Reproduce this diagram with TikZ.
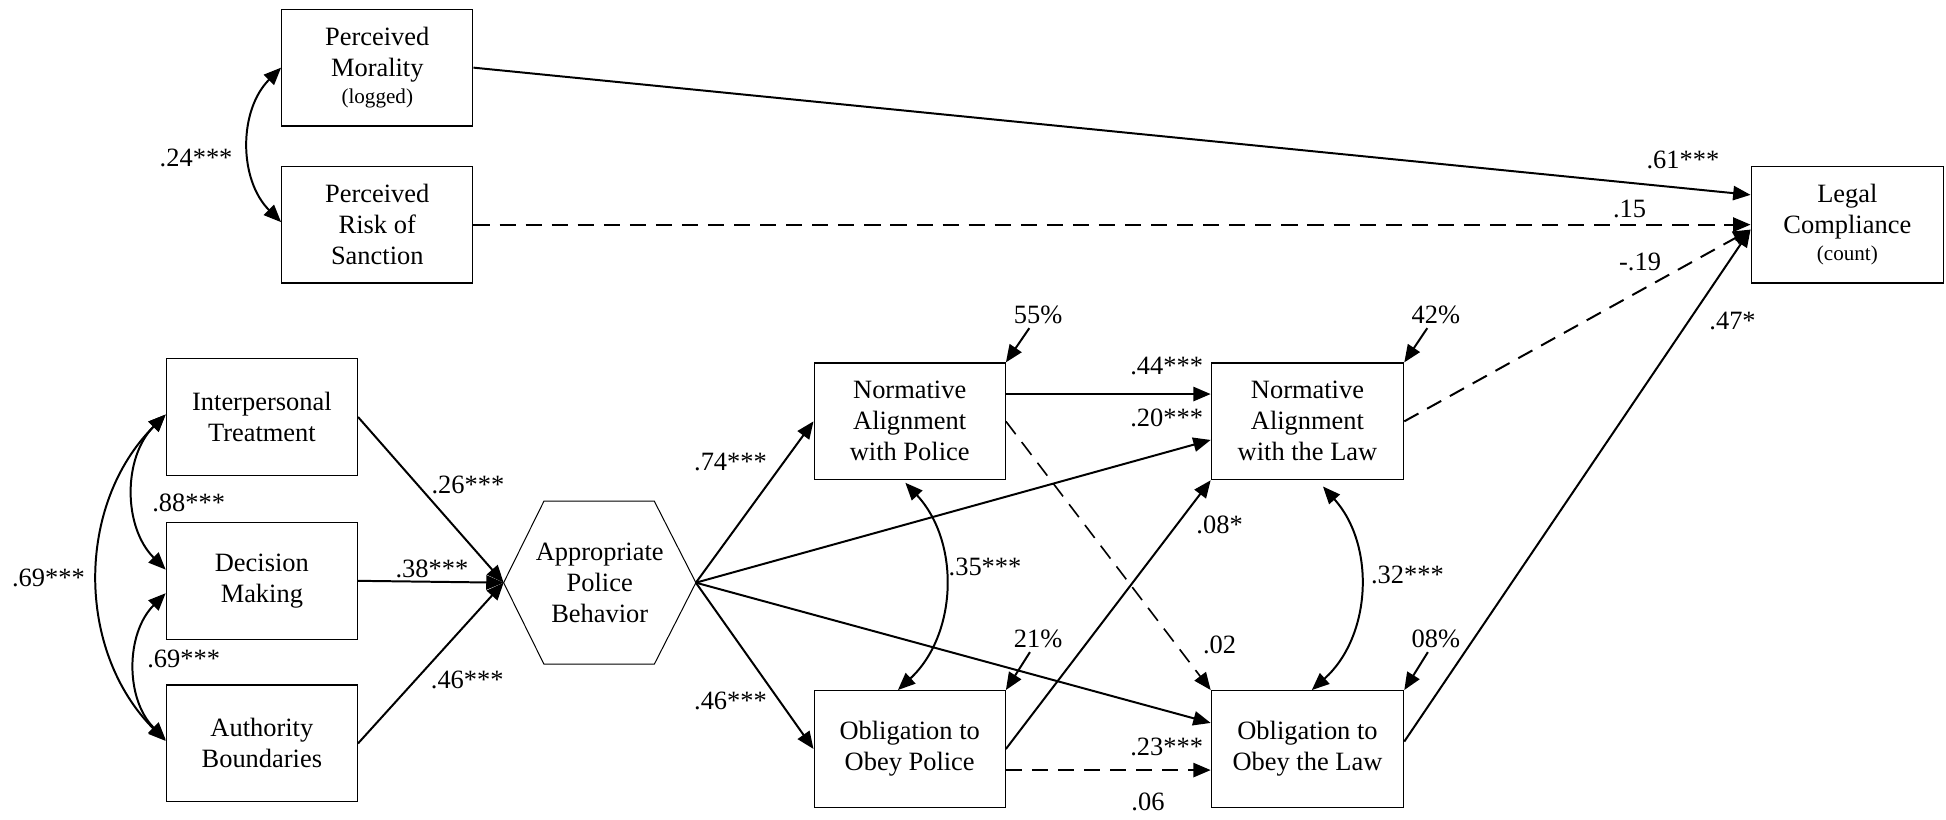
\documentclass[tikz,border=0pt]{standalone}
\usepackage{fontspec}
\setmainfont{Liberation Serif}
\usetikzlibrary{arrows.meta}
\newcommand\myfs{\fontsize{21.3}{25}\selectfont}
\newcommand\mysm{\fontsize{17}{19}\selectfont}
\tikzset{
  box/.style={draw, line width=1pt, minimum width=154pt, minimum height=94pt, align=center, inner sep=0pt, font=\myfs},
  lab/.style={font=\myfs, inner sep=1pt},
  arr/.style={-{Triangle[length=14pt,width=11.5pt]}, line width=1.6pt},
  dbl/.style={{Triangle[length=14pt,width=11.5pt]}-{Triangle[length=14pt,width=11.5pt]}, line width=1.6pt},
  dsh/.style={dash pattern=on 13pt off 8pt}
}
\begin{document}
\begin{tikzpicture}[x=1pt,y=-1pt]
\useasboundingbox (0,0) rectangle (1568,660);
% boxes
\node[box] (pm) at (304,54.5) {Perceived\\Morality\\[-3pt]{\mysm (logged)}};
\node[box] (pr) at (304,181) {Perceived\\Risk of\\Sanction};
\node[box, minimum width=155pt] (lc) at (1488.5,181) {Legal\\Compliance\\[-3pt]{\mysm (count)}};
\node[box] (it) at (211,336) {Interpersonal\\Treatment};
\node[box] (dm) at (211,468) {Decision\\Making};
\node[box] (ab) at (211,599) {Authority\\Boundaries};
\node[minimum width=154.5pt, minimum height=131pt, inner sep=0pt, align=center, font=\myfs] (apb) at (483.25,469.5) {Appropriate\\Police\\Behavior};
\draw[line width=0.8pt] (apb.west) -- ([xshift=32.5pt]apb.north west) -- ([xshift=-33.5pt]apb.north east) -- (apb.east) -- ([xshift=-33.5pt]apb.south east) -- ([xshift=32.5pt]apb.south west) -- cycle;
\node[box] (nap) at (733,339.5) {Normative\\Alignment\\with Police};
\node[box, minimum width=155pt] (nal) at (1053.5,339.5) {Normative\\Alignment\\with the Law};
\node[box] (oop) at (733,603.5) {Obligation to\\Obey Police};
\node[box, minimum width=155pt] (ool) at (1053.5,603.5) {Obligation to\\Obey the Law};
% labels
\node[lab] (l24) at (158,127) {.24***};
\node[lab] (l61) at (1356,129) {.61***};
\node[lab] (l15) at (1313,168) {.15};
\node[lab] (lm19) at (1321.5,211) {-.19};
\node[lab] (l47) at (1396,259) {.47*};
\node[lab] (l88) at (152,405) {.88***};
\node[lab] (l69a) at (148,531) {.69***};
\node[lab] (l69b) at (39,466) {.69***};
\node[lab] (l26) at (377,391) {.26***};
\node[lab] (l38) at (348,458.5) {.38***};
\node[lab] (l46a) at (376.5,548) {.46***};
\node[lab] (l74) at (588.6,372) {.74***};
\node[lab] (l46b) at (588.6,565) {.46***};
\node[lab] (l44) at (940,295) {.44***};
\node[lab] (l20) at (940,337) {.20***};
\node[lab] (l35) at (793.7,457) {.35***};
\node[lab] (l08) at (982.7,423) {.08*};
\node[lab] (l02) at (982.7,520) {.02};
\node[lab] (l23) at (940,602) {.23***};
\node[lab] (l06) at (925,646) {.06};
\node[lab] (l32) at (1134,463) {.32***};
\node[lab, inner sep=3pt] (p55) at (836.5,254) {55\%};
\node[lab, inner sep=3pt] (p21) at (836.5,515) {21\%};
\node[lab, inner sep=3pt] (p42) at (1157,254) {42\%};
\node[lab, inner sep=3pt] (p08) at (1157,515) {08\%};
% top paths
\draw[arr] (pm.east) -- ([yshift=24pt]lc.west);
\draw[arr,dsh] (pr.east) -- (lc.west);
\draw[arr,dsh] (nal.east) -- ([yshift=-4pt]lc.west);
\draw[arr] ([yshift=6pt]ool.east) -- ([yshift=-4pt]lc.west);
\draw[dbl] (pm.west) to[bend right=45] ([yshift=2pt]pr.west);
% left correlations
\draw[dbl] ([yshift=2pt]it.west) to[bend right=45] ([yshift=9pt]dm.west);
\draw[dbl] ([yshift=-10pt]dm.west) to[bend right=45] ([yshift=3pt]ab.west);
\draw[dbl] ([yshift=2pt]it.west) to[bend right=45] ([yshift=2pt]ab.west);
% to APB
\draw[arr] (it.east) -- (apb.west);
\draw[arr] (dm.east) -- (apb.west);
\draw[arr] (ab.east) -- (apb.west);
% from APB
\draw[arr] (apb.east) -- (nap.west);
\draw[arr] (apb.east) -- (oop.west);
\draw[arr] (apb.east) -- ([yshift=-15pt]nal.west);
\draw[arr] (apb.east) -- ([yshift=21pt]ool.west);
% middle
\draw[arr] ([yshift=22pt]nap.east) -- ([yshift=22pt]nal.west);
\draw[arr,dsh,line width=1.3pt] (nap.east) -- (ool.north west);
\draw[arr] (oop.east) -- (nal.south west);
\draw[arr,dsh] ([yshift=-17pt]oop.east) -- ([yshift=-17pt]ool.west);
\draw[dbl] ([xshift=-3.5pt,yshift=-2pt]nap.south) to[bend left=45] ([xshift=-9.5pt]oop.north);
\draw[dbl] ([xshift=12.5pt,yshift=-5pt]nal.south) to[bend left=45] ([xshift=3.5pt]ool.north);
% residuals
\draw[arr] (p55) -- (nap.north east);
\draw[arr] (p21) -- (oop.north east);
\draw[arr] (p42) -- (nal.north east);
\draw[arr] (p08) -- (ool.north east);
\end{tikzpicture}
\end{document}
